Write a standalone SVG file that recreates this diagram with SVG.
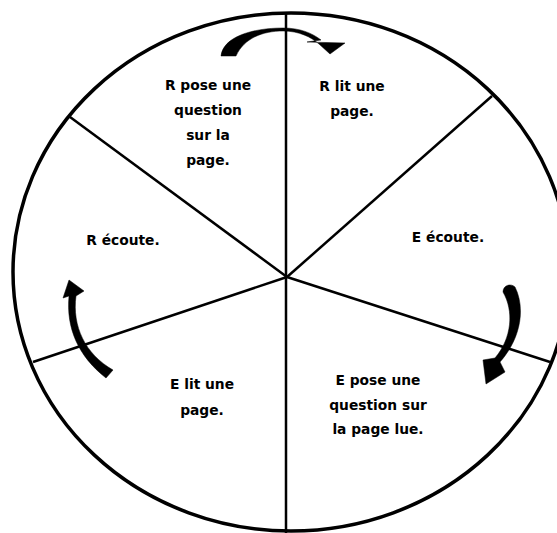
<svg xmlns="http://www.w3.org/2000/svg" width="557" height="533" viewBox="0 0 557 533">
<style>
.lbl{font-family:"DejaVu Sans","Liberation Sans",sans-serif;font-weight:bold;font-size:13.8px;fill:#000;text-anchor:middle}
.rim{fill:none;stroke:#000;stroke-width:3.5}
.spoke{fill:none;stroke:#000;stroke-width:2.5}
.arrow{fill:#000;stroke:#000;stroke-width:0.5;stroke-linejoin:round}
</style>
<rect width="557" height="533" fill="#fff"/>
<g id="connectors">
<ellipse class="rim" cx="291" cy="272" rx="278" ry="259"/>
<line class="spoke" x1="286" y1="13" x2="286" y2="533" stroke-width="3"/>
<line class="spoke" x1="287" y1="277" x2="70" y2="117"/>
<line class="spoke" x1="287" y1="277" x2="492" y2="96"/>
<line class="spoke" x1="287" y1="277" x2="550" y2="362"/>
<line class="spoke" x1="287" y1="277" x2="33" y2="362"/>
<path id="arrow-top" class="arrow" d="M221,56 C223,37 252,28 283,28 C300,28 312,33 321,40 L307,42 L345,43 L330,54 L319,44 C311,37 299,31 283,31 C263,31 244,38 236,56 Z"/>
<path id="arrow-left" class="arrow" d="M69,280 L84,291 L76,296 C72,326 85,354 113,370 L106,378 C78,356 66,328 69,296 L63,298 Z"/>
<path id="arrow-right" class="arrow" d="M503,292 C503,285 511,283 515,287 C525,307 522,337 500,362 L505,372 L486,384 L483,360 L495,358 C512,338 514,311 503,292 Z"/>
</g>
<g id="node-r-pose">
<text class="lbl" x="208" y="90">R pose une</text>
<text class="lbl" x="208" y="115">question</text>
<text class="lbl" x="208" y="140">sur la</text>
<text class="lbl" x="208" y="165">page.</text>
</g>
<g id="node-r-lit">
<text class="lbl" x="352" y="91">R lit une</text>
<text class="lbl" x="352" y="116">page.</text>
</g>
<g id="node-e-ecoute">
<text class="lbl" x="448" y="242">E écoute.</text>
</g>
<g id="node-e-pose">
<text class="lbl" x="378" y="385">E pose une</text>
<text class="lbl" x="378" y="410">question sur</text>
<text class="lbl" x="378" y="434">la page lue.</text>
</g>
<g id="node-e-lit">
<text class="lbl" x="202" y="389">E lit une</text>
<text class="lbl" x="202" y="415">page.</text>
</g>
<g id="node-r-ecoute">
<text class="lbl" x="123" y="245">R écoute.</text>
</g>
</svg>
